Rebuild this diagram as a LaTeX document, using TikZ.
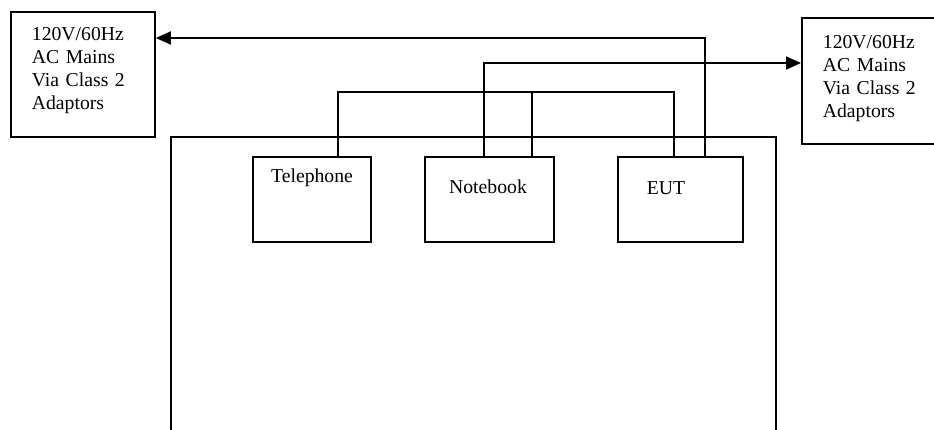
\documentclass[tikz,border=0pt]{standalone}
\usepackage{fontspec}
\setmainfont{Liberation Serif}
\usetikzlibrary{arrows.meta,positioning}
\tikzset{
  unit/.style={draw,rectangle,line width=1.8pt,anchor=north west,inner sep=0pt},
  mains/.style={unit,align=left,inner xsep=21pt,text width=102pt},
  wire/.style={line width=1.8pt},
  feed/.style={wire,-{Triangle[length=15pt,width=13pt]}}
}
\newcommand{\viaclass}{\makebox[102pt][s]{Via Class 2}}
\newcommand{\adaptors}[1]{Adaptors\rule[-#1]{0pt}{0pt}}
\begin{document}
\begin{tikzpicture}[x=1pt,y=-1pt,font=\fontsize{19.7pt}{23pt}\selectfont]
\useasboundingbox (0,0) rectangle (934,430);
\node[mains,minimum height=125pt] (acl) at (10,11) {120V/60Hz\\AC Mains\\\viaclass\\\adaptors{12pt}};
\node[mains,text width=91pt,minimum height=126pt] (acr) at (801,17) {120V/60Hz\\AC Mains\\\viaclass\\\adaptors{9pt}};
\draw[wire] (171,432) |- (776,137) -- (776,432);
\node[unit,minimum width=118pt,minimum height=85pt] (tel) at (252,156) {};
\node[unit,minimum width=129pt,minimum height=85pt] (nb) at (424,156) {};
\node[unit,minimum width=125pt,minimum height=85pt] (eut) at (617,156) {};
\node (teltxt) at (312,178) {Telephone};
\node (nbtxt) at (488,187) {Notebook};
\node (euttxt) at (666,188) {EUT};
\draw[feed] ([xshift=88pt]eut.north west) |- ([yshift=-27pt]acl.north east);
\draw[feed] ([xshift=60pt]nb.north west) |- ([yshift=-46pt]acr.north west);
\draw[wire] ([xshift=86pt]tel.north west) -- ++(0,-64) -| ([xshift=57pt]eut.north west);
\draw[wire] ([xshift=108pt]nb.north west) -- ++(0,-64);
\end{tikzpicture}
\end{document}
